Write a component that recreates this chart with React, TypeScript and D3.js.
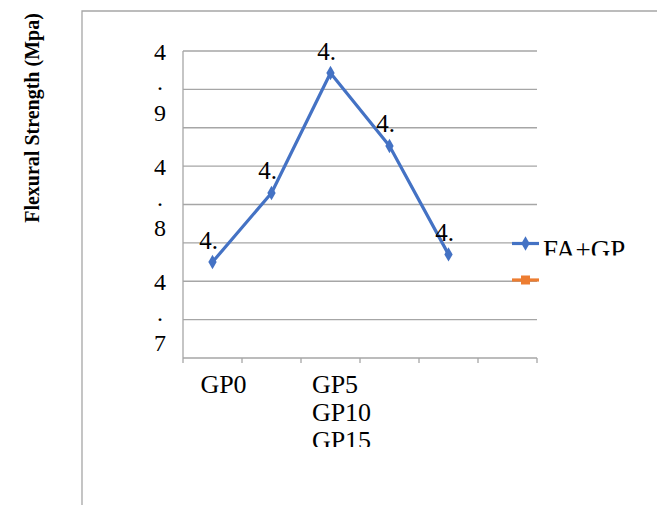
import React, { useEffect, useRef } from "react";
import * as d3 from "d3";

// Flexural strength of the FA+GP mixes
const categories = ["GP0", "", "GP5\nGP10\nGP15\nGP20", "", "", ""];
const mixes = ["GP0", "GP5", "GP10", "GP15", "GP20"];
const faGp = [4.78, 4.852, 4.977, 4.901, 4.788];
const yTicks = [4.68, 4.72, 4.76, 4.8, 4.84, 4.88, 4.92, 4.96, 5.0];
const yLabelTicks = [4.96, 4.84, 4.72];
const seriesNames = ["FA+GP", ""];
const seriesColors = ["#4472C4", "#ED7D31"];

const W = 657;
const H = 505;
const FONT = "'Liberation Serif', 'Times New Roman', serif";

export default function App() {
  const ref = useRef<SVGSVGElement | null>(null);

  useEffect(() => {
    const svg = d3.select(ref.current);
    svg.selectAll("*").remove();

    const plot = { left: 183, right: 537, top: 51, bottom: 358 };
    const x = d3
      .scaleBand<number>()
      .domain(d3.range(categories.length))
      .range([plot.left, plot.right]);
    const y = d3.scaleLinear().domain([4.68, 5.0]).range([plot.bottom, plot.top]);

    const defs = svg.append("defs");
    defs
      .append("clipPath")
      .attr("id", "xlab-clip")
      .append("rect")
      .attr("x", 0)
      .attr("y", 0)
      .attr("width", W)
      .attr("height", 447);
    defs
      .append("clipPath")
      .attr("id", "legend-clip")
      .append("rect")
      .attr("x", 0)
      .attr("y", 0)
      .attr("width", W)
      .attr("height", 255.5);

    // chart frame
    svg
      .append("path")
      .attr("d", `M82,${H} V11 H${W}`)
      .attr("fill", "none")
      .attr("stroke", "#a6a6a6")
      .attr("stroke-width", 1.3);

    // gridlines
    svg
      .append("g")
      .selectAll("line")
      .data(yTicks.slice(1))
      .join("line")
      .attr("x1", plot.left)
      .attr("x2", plot.right)
      .attr("y1", (d) => y(d))
      .attr("y2", (d) => y(d))
      .attr("stroke", "#a6a6a6")
      .attr("stroke-width", 1.3);

    // axes
    svg
      .append("line")
      .attr("x1", plot.left)
      .attr("x2", plot.left)
      .attr("y1", y(5.0))
      .attr("y2", plot.bottom)
      .attr("stroke", "#a6a6a6")
      .attr("stroke-width", 1.3);
    svg
      .append("line")
      .attr("x1", plot.left)
      .attr("x2", plot.right)
      .attr("y1", plot.bottom)
      .attr("y2", plot.bottom)
      .attr("stroke", "#a6a6a6")
      .attr("stroke-width", 1.3);
    const xTickPos = d3.range(categories.length + 1).map((i) =>
      i < categories.length ? (x(i) as number) : plot.right
    );
    svg
      .append("g")
      .selectAll("line")
      .data(xTickPos)
      .join("line")
      .attr("x1", (d) => d)
      .attr("x2", (d) => d)
      .attr("y1", plot.bottom)
      .attr("y2", plot.bottom + 5)
      .attr("stroke", "#a6a6a6")
      .attr("stroke-width", 1.3);

    // y tick labels, wrapped one character per line and cut to three lines
    const yl = svg
      .append("g")
      .attr("font-family", FONT)
      .attr("font-size", 24)
      .attr("fill", "#000")
      .attr("text-anchor", "middle");
    yLabelTicks.forEach((v) => {
      const chars = String(v.toFixed(2)).slice(0, 3).split("");
      const t = yl.append("text").attr("x", 160);
      chars.forEach((c, i) => {
        t.append("tspan")
          .attr("x", 160)
          .attr("y", y(v) + 1 + (i - 1) * 30.5)
          .text(c);
      });
    });

    // x category labels
    const xl = svg
      .append("g")
      .attr("clip-path", "url(#xlab-clip)")
      .attr("font-family", FONT)
      .attr("font-size", 26)
      .attr("fill", "#000");
    categories.forEach((c, i) => {
      if (!c) return;
      const lines = c.split("\n");
      const t = xl.append("text");
      const spans = lines.map((ln, k) =>
        t.append("tspan").attr("y", 393 + k * 27.8).text(ln)
      );
      const widest = d3.max(spans, (s) => (s.node() as SVGTextContentElement).getComputedTextLength()) || 0;
      const cx = (x(i) as number) + x.bandwidth() / 2 + 11;
      spans.forEach((s) => s.attr("x", cx - widest / 2));
    });

    // y axis title
    svg
      .append("text")
      .attr("transform", "translate(39,118) rotate(-90)")
      .attr("text-anchor", "middle")
      .attr("font-family", FONT)
      .attr("font-weight", "bold")
      .attr("font-size", 20)
      .attr("fill", "#000")
      .text("Flexural Strength (Mpa)");

    // series line
    const px = (i: number) => (x(i) as number) + x.bandwidth() / 2;
    const line = d3
      .line<number>()
      .x((_, i) => px(i))
      .y((d) => y(d));
    svg
      .append("path")
      .datum(faGp)
      .attr("d", line)
      .attr("fill", "none")
      .attr("stroke", seriesColors[0])
      .attr("stroke-width", 3.2)
      .attr("stroke-linejoin", "round");

    const diamond = d3.symbol().type(d3.symbolDiamond).size(60);
    svg
      .append("g")
      .selectAll("path")
      .data(faGp)
      .join("path")
      .attr("d", diamond)
      .attr("transform", (d, i) => `translate(${px(i)},${y(d)})`)
      .attr("fill", seriesColors[0]);

    // data labels (truncated in the cell)
    svg
      .append("g")
      .attr("font-family", FONT)
      .attr("font-size", 25)
      .attr("fill", "#000")
      .attr("text-anchor", "middle")
      .selectAll("text")
      .data(faGp)
      .join("text")
      .attr("x", (d, i) => px(i) - 4)
      .attr("y", (d) => y(d) - 13.5)
      .text((d) => String(d).slice(0, 2));

    // legend
    const lg = svg.append("g");
    const lx0 = 512;
    const lx1 = 539;
    const ly = [243.5, 280];
    lg.append("line")
      .attr("x1", lx0)
      .attr("x2", lx1)
      .attr("y1", ly[0])
      .attr("y2", ly[0])
      .attr("stroke", seriesColors[0])
      .attr("stroke-width", 3.2);
    lg.append("path")
      .attr("d", diamond)
      .attr("transform", `translate(${(lx0 + lx1) / 2},${ly[0]})`)
      .attr("fill", seriesColors[0]);
    lg.append("line")
      .attr("x1", lx0)
      .attr("x2", lx1)
      .attr("y1", ly[1])
      .attr("y2", ly[1])
      .attr("stroke", seriesColors[1])
      .attr("stroke-width", 3.2);
    lg.append("rect")
      .attr("x", (lx0 + lx1) / 2 - 4.5)
      .attr("y", ly[1] - 4.5)
      .attr("width", 9)
      .attr("height", 9)
      .attr("fill", seriesColors[1]);
    lg.append("g")
      .attr("clip-path", "url(#legend-clip)")
      .selectAll("text")
      .data(seriesNames)
      .join("text")
      .attr("x", 543)
      .attr("y", (d, i) => ly[i] + 15)
      .attr("font-family", FONT)
      .attr("font-size", 27)
      .attr("fill", "#000")
      .text((d) => d);

    // keep mix names on the element for reference
    svg.attr("data-mixes", mixes.join(","));
  }, []);

  return (
    <svg
      ref={ref}
      width={W}
      height={H}
      style={{ position: "absolute", left: 0, top: 0, background: "#fff" }}
    />
  );
}
